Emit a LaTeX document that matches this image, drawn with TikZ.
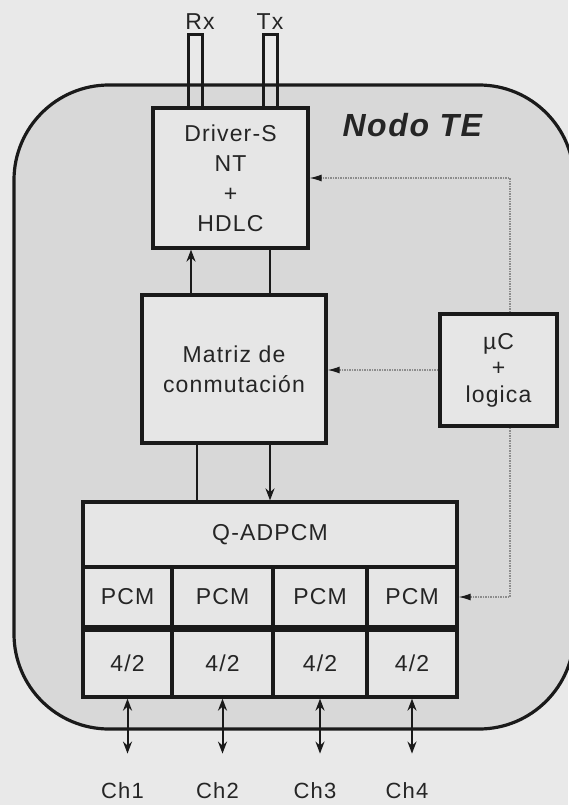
\documentclass[tikz,border=0pt]{standalone}
\usepackage{fontspec}
\setmainfont{Liberation Sans}[LetterSpace=5]
\usetikzlibrary{positioning,calc,arrows.meta}
\definecolor{pageback}{HTML}{E9E9E9}
\definecolor{nodeback}{HTML}{D8D8D8}
\definecolor{boxfill}{HTML}{E6E6E6}
\definecolor{boxline}{HTML}{1A1A1A}
\definecolor{inktext}{HTML}{252525}
\definecolor{ctlline}{HTML}{8C8C8C}
\tikzset{
  blk/.style={draw=boxline, fill=boxfill, line width=3.2pt, align=center, inner sep=0pt,
              text=inktext, font=\fontsize{23}{30}\selectfont, minimum width=#1},
  blk/.default=100pt,
  frame/.style={draw=boxline, fill=nodeback, line width=3.2pt, rounded corners=95pt},
  pin/.style={draw=boxline, line width=3pt},
  lbl/.style={text=inktext, font=\fontsize{23}{23}\selectfont},
  wire/.style={draw=boxline, line width=2pt},
  flow/.style={->, draw=boxline, line width=2pt, >={Stealth[length=12pt,width=9pt]}},
  dbl/.style={<->, draw=boxline, line width=2pt, >={Stealth[length=12pt,width=9pt]}},
  ctl/.style={->, draw=ctlline, line width=1.2pt, dash pattern=on 1.5pt off 1pt,
              >={Latex[length=12pt,width=7pt,color=boxline]}},
}

\begin{document}
\begin{tikzpicture}[x=1pt, y=-1pt]
  \fill[pageback] (0,0) rectangle (568,805);
  \useasboundingbox (0,0) rectangle (568,805);
  \path[frame] (14,85) rectangle (574,729);
  \node[anchor=base west, text=inktext, font=\fontsize{32}{32}\selectfont\bfseries\itshape] (ttl) at (339,137) {Nodo TE};
  % blocks
  \node[blk=155pt, minimum height=140pt] (drv) at (230.5,178) {Driver-S\\NT\\+\\HDLC};
  \node[blk=184pt, minimum height=148pt] (mtx) at (234,369) {Matriz de\\conmutación};
  \node[blk=117pt, minimum height=112pt, font=\fontsize{23}{26.5}\selectfont] (uc) at (498.5,370) {µC\\+\\logica};
  \node[blk=374pt, minimum height=65pt] (qad) at (270,534.5) {Q-ADPCM};
  \foreach \i/\x/\w in {1/127.5/89, 2/222.5/101, 3/320/94, 4/412/90} {
    \node[blk=\w pt, minimum height=60pt] (p\i) at (\x,597) {PCM};
    \node[blk=\w pt, minimum height=67pt] (f\i) at (\x,663.5) {4/2};
    \draw[dbl] (f\i.south) -- ++(0,55);
    \node[lbl, font=\fontsize{22}{22}\selectfont] (ch\i) at ($(f\i.south)+(-5,92)$) {Ch\i};
  }
  % line pins
  \node[lbl, anchor=base] (rx) at (200,30) {Rx};
  \node[lbl, anchor=base] (tx) at (270,30) {Tx};
  \draw[pin] ([xshift=-42.5]drv.north) |- ++(14,-72) -- ++(0,72);
  \draw[pin] ([xshift=32.5]drv.north) |- ++(14,-72) -- ++(0,72);
  % data paths
  \draw[flow] ([xshift=-39.5]drv.south |- mtx.north) -- ([xshift=-39.5]drv.south);
  \draw[wire] ([xshift=39.5]drv.south) -- ([xshift=39.5]drv.south |- mtx.north);
  \draw[wire] ([xshift=-73]qad.north |- mtx.south) -- ([xshift=-73]qad.north);
  \draw[flow] (qad.north |- mtx.south) -- (qad.north);
  % control
  \draw[ctl] ([xshift=11.5]uc.north) |- (drv.east);
  \draw[ctl] (uc.west) -- (uc.west -| mtx.east);
  \draw[ctl] ([xshift=11.5]uc.south) |- (p4.east);
\end{tikzpicture}
\end{document}
